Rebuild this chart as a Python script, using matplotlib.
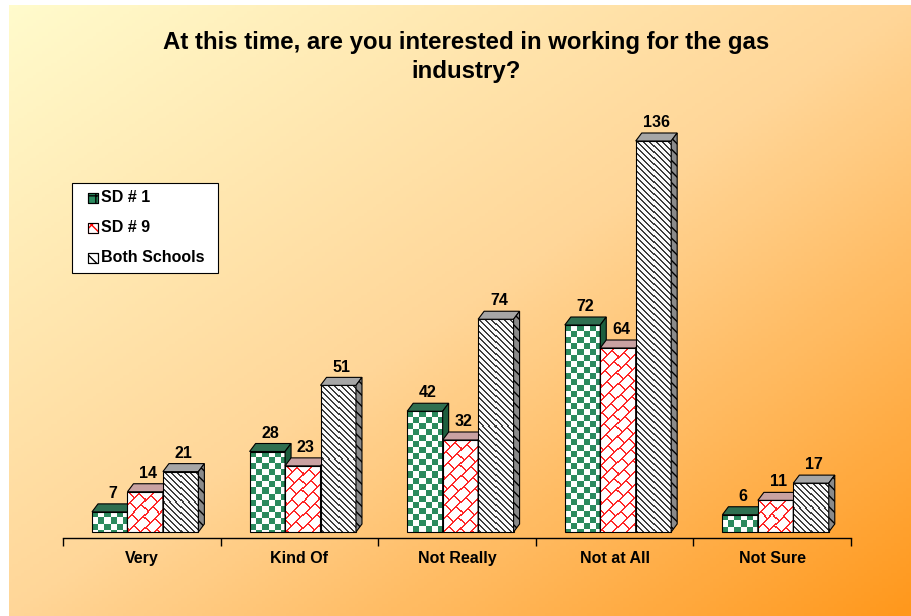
import numpy as np
import matplotlib.pyplot as plt
from matplotlib.patches import Polygon, Rectangle
from matplotlib.colors import LinearSegmentedColormap
from matplotlib.transforms import blended_transform_factory

plt.rcParams['font.family'] = ['Liberation Sans', 'DejaVu Sans']

# data
categories = ['Very', 'Kind Of', 'Not Really', 'Not at All', 'Not Sure']
series_names = ['SD # 1', 'SD # 9', 'Both Schools']
sd1 = [7, 28, 42, 72, 6]
sd9 = [14, 23, 32, 64, 11]
both = [21, 51, 74, 136, 17]
title = 'At this time, are you interested in working for the gas\nindustry?'

W, H = 912, 616
fig = plt.figure(figsize=(W / 100, H / 100), dpi=100)
fig.patch.set_facecolor('white')


def fx(px):
    return px / W


def fy(py):
    return 1 - py / H


# background gradient (yellow top-left -> orange bottom-right)
bg = fig.add_axes([0, 0, 1, 1], zorder=-10)
gx, gy = np.meshgrid(np.linspace(0, 1, 300), np.linspace(0, 1, 200))
t = 0.5 * gx + 0.5 * gy
cmap = LinearSegmentedColormap.from_list(
    'bg', [(0, '#FFFBCC'), (0.5, '#FFD698'), (1, '#FF981C')])
bg.imshow(t, cmap=cmap, extent=(9, W, H, 5), aspect='auto', vmin=0, vmax=1)
bg.set_xlim(0, W)
bg.set_ylim(H, 0)
bg.axis('off')

# main axes, placed in pixels
left, right, base, top = 63, 851, 538, 100
ax = fig.add_axes([fx(left), fy(base), (right - left) / W, (base - top) / H])
ax.patch.set_alpha(0)
px_y = 2.875                       # pixels per unit
ymin = -6 / px_y
ax.set_xlim(0, len(categories))
ax.set_ylim(ymin, ymin + (base - top) / px_y)

px_x = (right - left) / len(categories)
dx = 6 / px_x
dy = 8 / px_y
bw = 0.225
x0 = 0.184


def pattern(kind, wpx, hpx):
    xx, yy = np.meshgrid(np.arange(wpx), np.arange(hpx))
    img = np.ones((hpx, wpx, 3))
    if kind == 'checker':
        m = ((xx // 6) + (yy // 6)) % 2 == 0
        img[m] = np.array([43, 138, 94]) / 255
    elif kind == 'brick':
        s = xx + yy
        d = xx - yy
        band = s // 13
        m = (s % 13) < 2
        off = np.where(band % 2 == 0, 0, 9)
        m |= ((d + off) % 18) < 2
        img[m] = np.array([255, 40, 40]) / 255
    else:
        m = ((xx - yy) % 6) < 2
        img[m] = np.array([60, 60, 60]) / 255
        img[~m] = np.array([250, 250, 250]) / 255
    return img


kinds = ['checker', 'brick', 'lines']
top_colors = ['#2f6f50', '#c9a2a2', '#a6a6a6']
side_colors = ['#1d5e3e', '#b05858', '#8a8a8a']
all_vals = [sd1, sd9, both]

for i in range(len(categories)):
    for j, vals in enumerate(all_vals):
        v = vals[i]
        xl = i + x0 + j * bw
        bars = ax.bar(xl, v, width=bw, align='edge', facecolor='none',
                      edgecolor='black', linewidth=0.8, zorder=3 + j * 3)
        rect = bars[0]
        wpx = max(int(bw * px_x), 2)
        hpx = max(int(v * px_y), 2)
        im = ax.imshow(pattern(kinds[j], wpx, hpx), extent=(xl, xl + bw, 0, v),
                       aspect='auto', interpolation='nearest', zorder=2 + j * 3)
        im.set_clip_path(rect)
        # top face
        ax.add_patch(Polygon([(xl, v), (xl + bw, v), (xl + bw + dx, v + dy),
                              (xl + dx, v + dy)], closed=True,
                             facecolor=top_colors[j], edgecolor='black',
                             linewidth=0.8, zorder=3 + j * 3))
        # side face
        ax.add_patch(Polygon([(xl + bw, 0), (xl + bw + dx, dy),
                              (xl + bw + dx, v + dy), (xl + bw, v)], closed=True,
                             facecolor=side_colors[j], edgecolor='black',
                             hatch='\\\\\\' if j == 2 else None,
                             linewidth=0.8, zorder=3 + j * 3))
        ax.text(xl + bw / 2 + dx / 2, v + dy + 1.0, str(v), ha='center',
                va='bottom', fontsize=11.5, fontweight='bold', zorder=20)

for s in ['top', 'right', 'left']:
    ax.spines[s].set_visible(False)
ax.spines['bottom'].set_position(('data', ymin))
ax.spines['bottom'].set_linewidth(1.0)
ax.set_yticks([])
ax.set_xticks(np.arange(len(categories) + 1))
ax.set_xticklabels([])
ax.tick_params(axis='x', which='major', length=6, direction='out', width=1)

# category labels on a common baseline
lab_tr = blended_transform_factory(ax.transData, fig.transFigure)
for i, name in enumerate(categories):
    ax.text(i + 0.5, fy(563), name, transform=lab_tr, ha='center',
            va='baseline', fontsize=11.5, fontweight='bold')

fig.text(fx(466), fy(57), title, ha='center', va='center', fontsize=17.3,
         fontweight='bold', linespacing=1.38)

# legend drawn by hand
fig.patches.append(Rectangle((fx(72), fy(273)), fx(218) - fx(72), fy(183) - fy(273),
                             transform=fig.transFigure, facecolor='white',
                             edgecolor='black', linewidth=0.8, zorder=5))
leg_styles = [dict(facecolor='#2b8a5e', edgecolor='black', hatch='++'),
              dict(facecolor='white', edgecolor='red', hatch='xx'),
              dict(facecolor='white', edgecolor='black', hatch='\\\\\\')]
for k, name in enumerate(series_names):
    yc = 198 + 30 * k
    fig.patches.append(Rectangle((fx(88), fy(yc + 5)), 10 / W, 10 / H,
                                 transform=fig.transFigure, linewidth=0.8,
                                 zorder=6, **leg_styles[k]))
    fig.patches.append(Rectangle((fx(88), fy(yc + 5)), 10 / W, 10 / H,
                                 transform=fig.transFigure, facecolor='none',
                                 edgecolor='black', linewidth=0.8, zorder=7))
    fig.text(fx(101), fy(yc), name, ha='left', va='center', fontsize=11.5,
             fontweight='bold', zorder=8)

fig.savefig('out.png', dpi=100)
